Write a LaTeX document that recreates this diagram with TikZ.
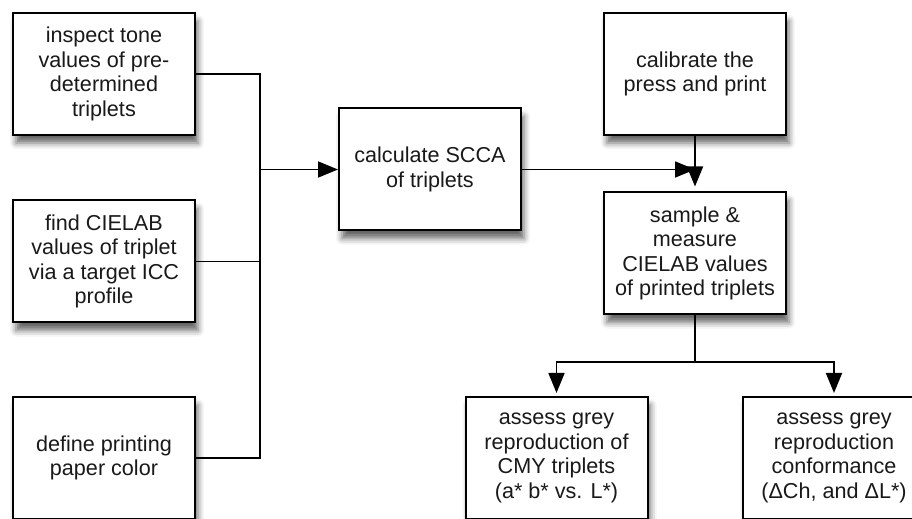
\documentclass[tikz,border=0pt]{standalone}
\usepackage{fontspec}
\setmainfont{Liberation Sans}
\usetikzlibrary{arrows.meta,shadows.blur}

\tikzset{
  stage/.style={draw, line width=1pt, fill=white, text=black!90,
    minimum width=91pt, minimum height=61pt, align=center,
    font=\fontsize{10.8}{12.25}\selectfont,
    blur shadow={shadow xshift=1.5pt, shadow yshift=-4pt,
      shadow blur radius=3pt, shadow opacity=60}},
  link/.style={line width=0.9pt},
  tip/.style={link, -{Triangle[length=10pt,width=8pt]}}
}

\begin{document}
\begin{tikzpicture}[x=0.5pt,y=-0.5pt]
\useasboundingbox (0,0) rectangle (912,519);

\node[stage] (inspect) at (104,74) {inspect tone\\values of pre-\\determined\\triplets};
\node[stage] (cielab) at (104,261.5) {find CIELAB\\values of triplet\\via a target ICC\\profile};
\node[stage] (paper) at (104,458) {define printing\\paper color};
\node[stage] (scca) at (430,169.5) {calculate SCCA\\of triplets};
\node[stage] (calib) at (695,74) {calibrate the\\press and print};
\node[stage] (measure) at (695,253.5) {sample \&\\measure\\CIELAB values\\of printed triplets};
\node[stage] (greyplot) at (556.5,458) {assess grey\\reproduction of\\CMY triplets\\(a* b* vs. L*)};
\node[stage] (greyconf) at (834,458) {assess grey\\reproduction\\conformance\\(ΔCh, and ΔL*)};

\coordinate (bus) at (260,0);
\draw[link] (inspect.east) -| (bus |- paper.east) -- (paper.east);
\draw[link] (cielab.east) -- (bus |- cielab.east);
\draw[tip] (bus |- scca.west) -- (scca.west);

\draw[tip] (scca.east) -- (scca.east -| measure.north);
\draw[tip, shorten >=2.5pt] (calib.south) -- (measure.north);

\coordinate (split) at (695,362);
\draw[link] (measure.south) -- (split);
\draw[tip, shorten >=1.5pt] (split) -| (greyplot.north);
\draw[tip, shorten >=1.5pt] (split) -| (greyconf.north);



\end{tikzpicture}
\end{document}
